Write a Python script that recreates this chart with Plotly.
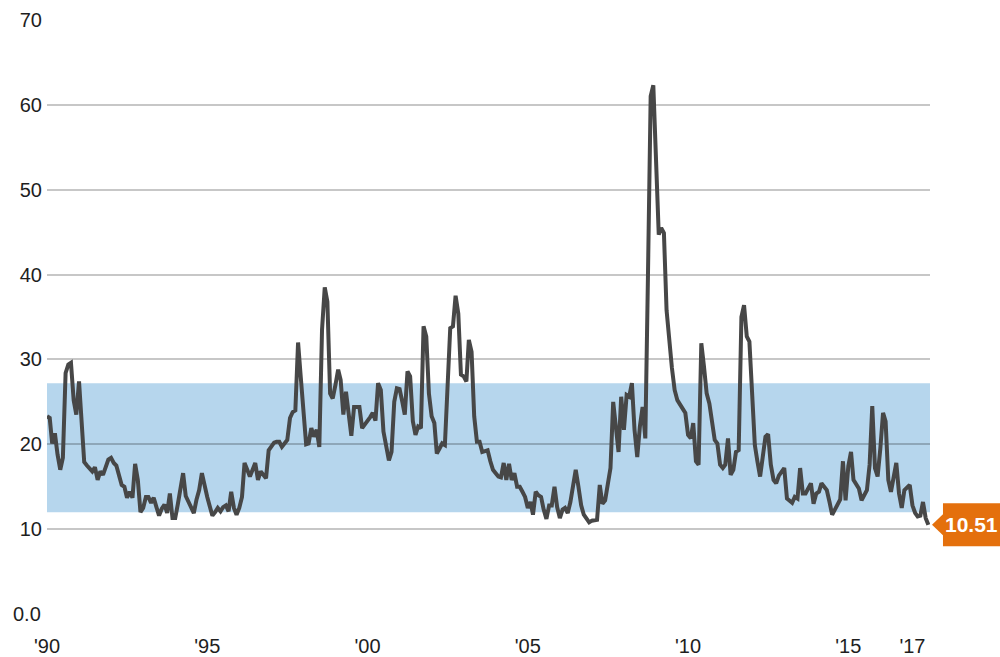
import pandas as pd
import plotly.graph_objects as go

# Monthly index level, Jan 1990 - Jul 2017
y1990 = [23.3, 23.1, 20.1, 21.3, 18.8, 17.0, 18.4, 28.4, 29.4, 29.6, 25.2, 23.5]
y1991 = [27.4, 22.5, 17.9, 17.5, 17.2, 16.8, 17.3, 15.8, 16.8, 16.4, 17.3, 18.2]
y1992 = [18.4, 17.8, 17.5, 16.5, 15.2, 15.0, 13.7, 14.4, 13.7, 17.7, 15.8, 12.0]
y1993 = [12.5, 13.8, 13.8, 13.1, 13.7, 12.6, 11.6, 12.4, 12.9, 11.9, 14.2, 11.3]
y1994 = [11.3, 13.0, 14.5, 16.6, 13.9, 13.2, 12.5, 11.9, 13.5, 14.6, 16.6, 15.0]
y1995 = [13.8, 12.6, 11.6, 12.0, 12.5, 12.1, 12.6, 12.8, 12.1, 14.4, 12.5, 11.7]
y1996 = [12.5, 13.8, 17.8, 17.0, 16.2, 17.0, 17.8, 15.8, 16.8, 16.4, 16.0, 19.3]
y1997 = [19.8, 20.2, 20.3, 20.3, 19.7, 20.1, 20.5, 23.1, 23.8, 24.0, 32.0, 28.0]
y1998 = [24.0, 20.0, 20.1, 21.9, 20.9, 21.7, 19.7, 33.5, 38.5, 36.8, 26.0, 25.4]
y1999 = [27.0, 28.8, 27.6, 23.5, 26.2, 23.6, 21.0, 24.4, 24.4, 24.4, 21.9, 22.3]
y2000 = [22.7, 23.2, 23.7, 22.8, 27.2, 26.4, 21.5, 19.5, 18.1, 19.1, 25.0, 26.6]
y2001 = [26.5, 25.0, 23.5, 28.6, 28.0, 22.7, 21.1, 22.1, 21.9, 33.9, 32.7, 26.0]
y2002 = [23.3, 22.5, 18.9, 19.5, 20.1, 19.9, 26.8, 33.7, 33.9, 37.5, 35.4, 28.2]
y2003 = [28.0, 27.4, 32.3, 30.9, 23.3, 20.3, 20.3, 19.1, 19.2, 19.3, 18.0, 17.0]
y2004 = [16.6, 16.2, 16.1, 17.8, 15.8, 17.7, 15.8, 16.6, 15.0, 15.0, 14.4, 13.8]
y2005 = [12.5, 13.2, 11.7, 14.4, 14.0, 13.8, 12.3, 11.2, 12.8, 12.8, 15.0, 12.6]
y2006 = [11.3, 12.3, 12.5, 11.9, 13.2, 15.0, 17.0, 15.0, 12.8, 11.7, 11.2, 10.8]
y2007 = [11.0, 11.0, 11.1, 15.2, 13.0, 13.4, 15.3, 17.2, 25.0, 22.0, 19.1, 25.6]
y2008 = [21.7, 25.8, 25.6, 27.2, 21.7, 18.5, 22.1, 24.4, 20.7, 39.8, 61.0, 62.3]
y2009 = [52.3, 44.7, 45.5, 44.9, 35.8, 31.9, 29.0, 26.4, 25.2, 24.7, 24.2, 23.7]
y2010 = [21.1, 20.7, 22.5, 18.0, 17.6, 31.9, 29.2, 26.0, 24.8, 22.5, 20.5, 20.1]
y2011 = [17.6, 17.2, 17.6, 20.7, 16.4, 17.0, 19.1, 19.3, 35.0, 36.4, 32.7, 32.1]
y2012 = [24.8, 19.9, 18.0, 16.2, 18.5, 20.9, 21.2, 17.6, 15.8, 15.4, 16.3, 16.8]
y2013 = [17.2, 13.6, 13.4, 13.1, 13.8, 13.6, 17.2, 14.2, 14.2, 14.8, 15.4, 13.0]
y2014 = [14.2, 14.4, 15.4, 15.0, 14.6, 13.2, 11.7, 12.3, 12.8, 13.5, 18.0, 13.4]
y2015 = [17.4, 19.1, 15.8, 15.2, 14.8, 13.4, 14.0, 14.6, 17.6, 24.5, 17.2, 16.2]
y2016 = [19.5, 23.7, 22.7, 15.8, 14.4, 16.0, 17.8, 14.2, 12.5, 14.6, 14.9, 15.2]
y2017 = [12.8, 11.9, 11.5, 11.6, 13.2, 11.3, 10.51]

# Shaded normal range
band_low = 12.0
band_high = 27.2

# Axis ticks
x_tick_years = [1990, 1995, 2000, 2005, 2010, 2015, 2017]
x_tick_labels = ["'90", "'95", "'00", "'05", "'10", "'15", "'17"]
y_tick_values = [10, 20, 30, 40, 50, 60, 70]
y_tick_labels = ["10", "20", "30", "40", "50", "60", "70"]
y_zero_label = "0.0"

values = (y1990 + y1991 + y1992 + y1993 + y1994 + y1995 + y1996 + y1997 + y1998
          + y1999 + y2000 + y2001 + y2002 + y2003 + y2004 + y2005 + y2006 + y2007
          + y2008 + y2009 + y2010 + y2011 + y2012 + y2013 + y2014 + y2015 + y2016 + y2017)
dates = pd.date_range("1990-01-01", periods=len(values), freq="MS")
last_val = values[-1]

FONT = "Liberation Sans, Arial, Helvetica, sans-serif"
ORANGE = "#e4700d"
TXT = "#1e1e1e"

fig = go.Figure()
fig.add_trace(go.Scatter(
    x=dates, y=values, mode="lines",
    line=dict(color="#474747", width=4),
    hoverinfo="x+y", showlegend=False,
))

fig.update_layout(
    width=1000, height=657,
    margin=dict(l=47, r=70, t=20, b=43, autoexpand=False),
    plot_bgcolor="white", paper_bgcolor="white",
    showlegend=False,
    font=dict(family=FONT, size=20, color=TXT),
)

fig.update_xaxes(
    range=["1990-01-01", "2017-07-20"],
    tickvals=[f"{y}-01-01" for y in x_tick_years],
    ticktext=x_tick_labels,
    showgrid=False, zeroline=False, showline=False, ticks="",
    ticklabelstandoff=18, automargin=False,
    tickfont=dict(family=FONT, size=20, color=TXT),
)
fig.update_yaxes(
    range=[0, 70],
    tickvals=y_tick_values, ticktext=y_tick_labels,
    showgrid=True, gridcolor="rgba(0,0,0,0.22)", gridwidth=1.5,
    zeroline=False, showline=False, ticks="",
    ticklabelstandoff=4, automargin=False,
    tickfont=dict(family=FONT, size=20, color=TXT),
)

# blue normal-range band
fig.add_shape(type="rect", xref="paper", yref="y", x0=0, x1=1,
              y0=band_low, y1=band_high, fillcolor="#b6d6ed",
              line=dict(width=0), layer="below")

# "0.0" label at the bottom of the value axis (no gridline there)
fig.add_annotation(text=y_zero_label, xref="paper", yref="y", x=0, y=0,
                   xanchor="right", yanchor="middle", xshift=-4,
                   showarrow=False, font=dict(family=FONT, size=20, color=TXT))

# Orange callout for the latest value
fig.add_shape(type="rect", xref="paper", yref="y",
              x0=1.0147, x1=1.1, ysizemode="pixel", yanchor=last_val,
              y0=-21.5, y1=21.5, fillcolor=ORANGE, line=dict(width=0), layer="above")
fig.add_shape(type="path", xref="paper", yref="y",
              xsizemode="pixel", xanchor=1.0, ysizemode="pixel", yanchor=last_val,
              path="M 2,0 L 14,11.5 L 14,-11.5 Z",
              fillcolor=ORANGE, line=dict(width=0), layer="above")
fig.add_annotation(text=f"{last_val:.2f}", xref="paper", yref="y",
                   x=1.0147, y=last_val, xanchor="left", yanchor="middle",
                   showarrow=False,
                   font=dict(family=FONT, size=21, color="white", weight="bold"))

fig.write_html(
    "out.html",
    config={"displayModeBar": False},
    post_script="document.body.style.margin='0px';document.body.style.overflow='hidden';",
)
